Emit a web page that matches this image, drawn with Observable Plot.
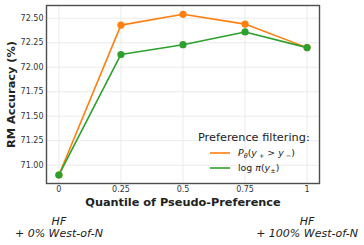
<!DOCTYPE html>
<html>
<head>
<meta charset="utf-8">
<script src="https://cdn.jsdelivr.net/npm/d3@7"></script>
<script src="https://cdn.jsdelivr.net/npm/@observablehq/plot@0.6"></script>
<style>
  html, body { margin: 0; padding: 0; background: #fff; }
  #chart svg { display: block; }
</style>
</head>
<body>
<div id="chart"></div>
<script>
// Data
const quantiles = [0, 0.25, 0.5, 0.75, 1];
const xTicks = [0, 0.25, 0.5, 0.75, 1];
const yTicks = [71.0, 71.25, 71.5, 71.75, 72.0, 72.25, 72.5];
const probFilter = [70.90, 72.43, 72.54, 72.44, 72.20];   // P_theta(y+ > y-)
const logpiFilter = [70.90, 72.13, 72.23, 72.36, 72.20];  // log pi(y±)
const seriesNames = ["prob", "logpi"];
const seriesColors = ["#ff7f0e", "#2ca02c"];
const xTitle = "Quantile of Pseudo-Preference";
const yTitle = "RM Accuracy (%)";
const legendTitle = "Preference filtering:";
const annotations = [
  {x: 0, text: "HF\n+ 0% West-of-N"},
  {x: 1, text: "HF\n+ 100% West-of-N"}
];

const rows = [];
quantiles.forEach((q, i) => {
  rows.push({q, v: probFilter[i], s: seriesNames[0]});
  rows.push({q, v: logpiFilter[i], s: seriesNames[1]});
});
const font = "DejaVu Sans, sans-serif";
const xFmt = d => String(d);
const yFmt = d3.format(".2f");

const chart = Plot.plot({
  width: 364,
  height: 245,
  marginLeft: 46,
  marginRight: 45,
  marginTop: 5,
  marginBottom: 62,
  style: {fontFamily: font, background: "#fff", overflow: "visible"},
  x: {domain: [-0.05, 1.05], ticks: xTicks, tickFormat: xFmt},
  y: {domain: [70.813, 72.63], ticks: yTicks, tickFormat: yFmt},
  color: {domain: seriesNames, range: seriesColors},
  marks: [
    Plot.gridX(xTicks, {stroke: "#e6e6e6", strokeOpacity: 1, strokeWidth: 0.8}),
    Plot.gridY(yTicks, {stroke: "#e6e6e6", strokeOpacity: 1, strokeWidth: 0.8}),
    Plot.axisX(xTicks, {tickSize: 0, tickPadding: 3, fontSize: 8, fill: "#333", label: null, tickFormat: xFmt}),
    Plot.axisY(yTicks, {tickSize: 0, tickPadding: 3, fontSize: 8, fill: "#333", label: null, tickFormat: yFmt}),
    Plot.line(rows, {x: "q", y: "v", z: "s", stroke: "s", strokeWidth: 1.6}),
    Plot.dot(rows, {x: "q", y: "v", fill: "s", r: 3.6}),
    Plot.frame({stroke: "#4d4d4d", strokeWidth: 1.4}),
    Plot.text([xTitle], {frameAnchor: "bottom", dy: 19, text: d => d, fontSize: 11.3, fontWeight: "bold", fill: "#222", lineAnchor: "middle", textAnchor: "middle"}),
    Plot.text([yTitle], {frameAnchor: "left", dx: -35, rotate: -90, text: d => d, fontSize: 11.3, fontWeight: "bold", fill: "#222", lineAnchor: "middle", textAnchor: "middle"}),
    Plot.text(annotations, {x: "x", frameAnchor: "bottom", dy: 33, text: "text", lineAnchor: "top", lineHeight: 1.1, fontSize: 11, fontStyle: "italic", fill: "#222", textAnchor: "middle"})
  ]
});

document.getElementById("chart").appendChild(chart);

// Legend
const svg = d3.select(chart);
const lg = svg.append("g").attr("font-family", font).attr("fill", "#222").attr("text-anchor", "start");
lg.append("text").attr("x", 198).attr("y", 141).attr("font-size", 11.3).text(legendTitle);
const legendY = [153, 168];
seriesColors.forEach((c, i) => {
  lg.append("line").attr("x1", 210).attr("x2", 230).attr("y1", legendY[i]).attr("y2", legendY[i])
    .attr("stroke", c).attr("stroke-width", 1.6);
});
const t1 = lg.append("text").attr("x", 238).attr("y", legendY[0] + 3).attr("font-size", 9.4);
t1.append("tspan").attr("font-style", "italic").text("P");
t1.append("tspan").attr("font-style", "italic").attr("font-size", 6.5).attr("dy", 2).text("θ");
t1.append("tspan").attr("dy", -2).text("(");
t1.append("tspan").attr("font-style", "italic").text("y");
t1.append("tspan").attr("font-size", 6.5).attr("dy", 2).text(" +");
t1.append("tspan").attr("dy", -2).text(" > ");
t1.append("tspan").attr("font-style", "italic").text("y");
t1.append("tspan").attr("font-size", 6.5).attr("dy", 2).text(" −");
t1.append("tspan").attr("dy", -2).text(")");
const t2 = lg.append("text").attr("x", 238).attr("y", legendY[1] + 3).attr("font-size", 9.4);
t2.append("tspan").text("log ");
t2.append("tspan").attr("font-style", "italic").text("π");
t2.append("tspan").text("(");
t2.append("tspan").attr("font-style", "italic").text("y");
t2.append("tspan").attr("font-size", 6.5).attr("dy", 2).text("±");
t2.append("tspan").attr("dy", -2).text(")");
</script>
</body>
</html>
